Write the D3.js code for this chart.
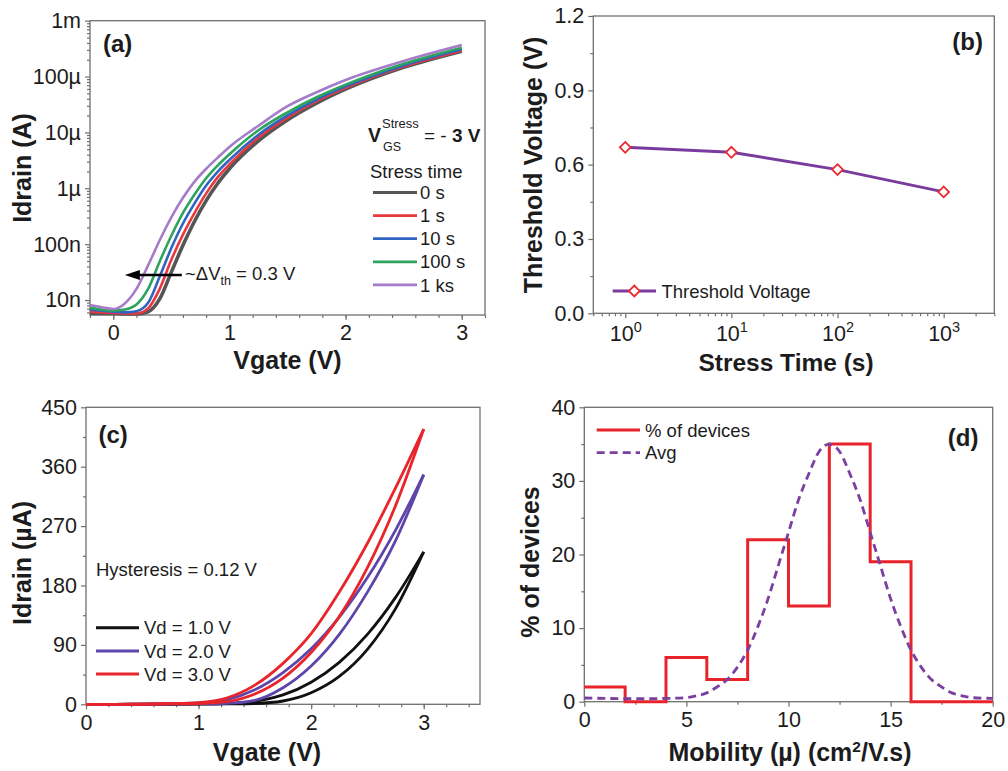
<!DOCTYPE html>
<html>
<head>
<meta charset="utf-8">
<script src="https://cdn.jsdelivr.net/npm/d3@7"></script>
<style>
body { margin: 0; background: #fff; }
svg text { font-family: "Liberation Sans", Arial, Helvetica, sans-serif; }
</style>
</head>
<body>
<svg id="fig" width="1008" height="771"></svg>
<script>
// ---- (a) transfer curves after negative gate stress ----
let vgateA = [-0.2, -0.1, 0, 0.1, 0.2, 0.3, 0.4, 0.5, 0.6, 0.7, 0.8, 0.9, 1.0, 1.25, 1.5, 1.75, 2.0, 2.5, 3.0]
// log10 of Idrain (A)
let logId0s = [-8.24, -8.24, -8.24, -8.25, -8.25, -8.21, -7.98, -7.50, -7.02, -6.59, -6.22, -5.91, -5.65, -5.15, -4.775, -4.475, -4.225, -3.835, -3.545]
let logId1s = [-8.21, -8.22, -8.23, -8.24, -8.24, -8.15, -7.80, -7.28, -6.83, -6.44, -6.09, -5.80, -5.57, -5.09, -4.735, -4.44, -4.20, -3.82, -3.537]
let logId10s = [-8.17, -8.19, -8.21, -8.22, -8.20, -8.05, -7.58, -7.07, -6.63, -6.27, -5.95, -5.70, -5.49, -5.04, -4.695, -4.41, -4.175, -3.80, -3.51]
let logId100s = [-8.14, -8.17, -8.19, -8.17, -8.08, -7.80, -7.31, -6.85, -6.44, -6.11, -5.82, -5.59, -5.39, -4.96, -4.64, -4.37, -4.145, -3.77, -3.483]
let logId1ks = [-8.09, -8.13, -8.16, -8.06, -7.80, -7.38, -6.93, -6.52, -6.17, -5.88, -5.65, -5.45, -5.26, -4.88, -4.53, -4.28, -4.06, -3.72, -3.435]
let stressLabels = ['0 s', '1 s', '10 s', '100 s', '1 ks']
let yTicksA = [1e-8, 1e-7, 1e-6, 1e-5, 1e-4, 1e-3]
let yTickLabelsA = ['10n', '100n', '1µ', '10µ', '100µ', '1m']
let xTicksA = [0, 1, 2, 3]

// ---- (b) threshold voltage vs stress time ----
let stressTime = [1, 10, 100, 1000]
let thresholdV = [0.67, 0.65, 0.58, 0.49]
let xTicksB = [1, 10, 100, 1000]
let yTicksB = [0, 0.3, 0.6, 0.9, 1.2]

// ---- (c) hysteresis loops (two sweep branches per Vd) ----
let vgateC = [0, 0.25, 0.5, 0.75, 1.0, 1.25, 1.5, 1.75, 2.0, 2.25, 2.5, 2.75, 3.0]
let idVd1Fwd = [0, 0, 0.1, 0.2, 0.5, 1.2, 4.5, 14.2, 33.5, 63.6, 106, 162, 231]
let idVd1Rev = [0, 0, 0, 0.1, 0.2, 0.5, 1.2, 5.0, 17.5, 42.2, 83.3, 145, 231]
let idVd2Fwd = [0, 0, 0.2, 0.8, 2, 7, 22, 48, 84, 132, 192, 264, 348]
let idVd2Rev = [0, 0, 0.1, 0.3, 0.6, 1.5, 6, 25, 58, 106, 170, 248, 348]
let idVd3Fwd = [0, 0, 0.2, 1.0, 2.5, 9.5, 29, 62, 107, 170, 244, 328, 417]
let idVd3Rev = [0, 0, 0.1, 0.5, 1.2, 4, 15.6, 39.6, 78.4, 133, 207, 301, 417]
let vdLabels = ['Vd = 1.0 V', 'Vd = 2.0 V', 'Vd = 3.0 V']
let xTicksC = [0, 1, 2, 3]
let yTicksC = [0, 90, 180, 270, 360, 450]

// ---- (d) mobility histogram ----
let binEdges = [0, 2, 4, 6, 8, 10, 12, 14, 16, 18, 20]
let pctDevices = [2, 0, 6, 3, 22, 13, 35, 19, 0, 0]
let avgMobility = [0, 1, 2, 3, 4, 5, 5.5, 6, 6.5, 7, 7.5, 8, 8.5, 9, 9.5, 10, 10.5, 11, 11.5, 12, 12.5, 13, 13.5, 14, 14.5, 15, 15.5, 16, 16.5, 17, 17.5, 18, 18.5, 19, 20]
let avgPct = [0.5, 0.45, 0.4, 0.4, 0.45, 0.55, 0.8, 1.2, 2, 3, 4.7, 7, 10.2, 14, 18.5, 23, 27.5, 31, 34, 35, 34, 31, 27.5, 23, 18.5, 14, 10.2, 7, 4.7, 3, 2, 1.2, 0.8, 0.55, 0.45]
let xTicksD = [0, 5, 10, 15, 20]
let yTicksD = [0, 10, 20, 30, 40]

const axisColor = '#707070'
const textColor = '#1c1c1c'
const tickFont = 21.5
const titleFont = 25
const legendFont = 18.5

let svg = d3.select('#fig')

const range = (a, b, step) => d3.range(Math.round((b - a) / step) + 1).map(i => +(a + i * step).toFixed(6))

const styleAxis = (sel) => {
    sel.attr('font-size', tickFont).attr('font-family', null).attr('color', textColor)
    sel.select('.domain').remove()
    sel.selectAll('line').attr('stroke', axisColor).attr('stroke-width', 1.2)
}

// minor + major ticks on bottom and left, plus the box
const drawAxes = (xScale, yScale, xMajor, xMinor, yMajor, yMinor, xFmt, yFmt, xPad) => {
    const [x0, x1] = xScale.range()
    const [y0, y1] = yScale.range()
    svg.append('g').attr('transform', `translate(0,${y0})`)
        .call(d3.axisBottom(xScale).tickValues(xMinor).tickSize(3).tickFormat(() => ''))
        .call(styleAxis)
    let xg = svg.append('g').attr('transform', `translate(0,${y0})`)
        .call(d3.axisBottom(xScale).tickValues(xMajor).tickSize(5).tickPadding(xPad || 5).tickFormat(xFmt))
        .call(styleAxis)
    svg.append('g').attr('transform', `translate(${x0},0)`)
        .call(d3.axisLeft(yScale).tickValues(yMinor).tickSize(3).tickFormat(() => ''))
        .call(styleAxis)
    svg.append('g').attr('transform', `translate(${x0},0)`)
        .call(d3.axisLeft(yScale).tickValues(yMajor).tickSize(5).tickPadding(4).tickFormat(yFmt))
        .call(styleAxis)
    svg.append('rect')
        .attr('x', x0).attr('y', y1)
        .attr('width', x1 - x0).attr('height', y0 - y1)
        .attr('fill', 'none').attr('stroke', axisColor).attr('stroke-width', 1.3)
    return xg
}

const addText = (x, y, txt, size, opts = {}) => {
    return svg.append('text')
        .attr('x', x).attr('y', y)
        .attr('font-size', size)
        .attr('font-weight', opts.bold ? 'bold' : null)
        .attr('text-anchor', opts.anchor || 'start')
        .attr('dy', opts.dy || null)
        .attr('fill', textColor)
        .text(txt)
}

const addYTitle = (x, y, txt) => {
    return svg.append('text')
        .attr('transform', `translate(${x},${y}) rotate(-90)`)
        .attr('text-anchor', 'middle')
        .attr('font-size', titleFont)
        .attr('font-weight', 'bold')
        .attr('fill', textColor)
        .text(txt)
}

// ================= (a) =================
const drawPanelA = () => {
    let xScale = d3.scaleLinear().domain([-0.2, 3.2]).range([90, 485])
    let yScale = d3.scaleLog().domain([5.4e-9, 1e-3]).range([315, 20.7])

    let yMinor = []
    for (let k = -9; k < -3; k++) {
        for (let m = 2; m <= 9; m++) {
            let v = m * Math.pow(10, k)
            if (v >= 5.4e-9 && v <= 1e-3) yMinor.push(v)
        }
    }
    drawAxes(xScale, yScale, xTicksA, range(-0.2, 3.2, 0.2), yTicksA, yMinor,
        d => d, d => yTickLabelsA[yTicksA.indexOf(d)])

    let colors = ['#555555', '#e8383d', '#2f64c2', '#2ea35c', '#a47cc9']
    let series = [logId0s, logId1s, logId10s, logId100s, logId1ks]
    let line = d3.line()
        .x((d, i) => xScale(vgateA[i]))
        .y(d => yScale(Math.pow(10, d)))
        .curve(d3.curveMonotoneX)
    series.forEach((s, i) => {
        svg.append('path')
            .attr('d', line(s))
            .attr('fill', 'none')
            .attr('stroke', colors[i])
            .attr('stroke-width', i === 0 ? 3.6 : 2.6)
    })

    // arrow marking the threshold shift
    let ay = yScale(2.8e-8)
    let ax1 = xScale(0.59), ax0 = xScale(0.1)
    svg.append('line')
        .attr('x1', ax1).attr('x2', ax0 + 12).attr('y1', ay).attr('y2', ay)
        .attr('stroke', '#000').attr('stroke-width', 2.4)
    svg.append('path')
        .attr('d', `M${ax0},${ay} L${ax0 + 15},${ay - 5} L${ax0 + 15},${ay + 5} Z`)
        .attr('fill', '#000')
    let t = addText(185, 280, '', 18.5)
    t.append('tspan').text('~ΔV')
    t.append('tspan').attr('font-size', 12.5).attr('dy', 5).text('th')
    t.append('tspan').attr('dy', -5).text(' = 0.3 V')

    addText(103, 52, '(a)', 24, { bold: true })
    addText(287.5, 369, 'Vgate (V)', titleFont, { bold: true, anchor: 'middle' })
    addYTitle(31, 168, 'Idrain (A)')

    // legend header
    addText(368, 141.5, 'V', 19.5, { bold: true })
    addText(382, 128, 'Stress', 13)
    addText(383, 151, 'GS', 12.5)
    let eq = addText(424, 141.5, '= - ', 19)
    eq.append('tspan').attr('font-weight', 'bold').text('3 V')
    addText(370, 178, 'Stress time', legendFont)

    stressLabels.forEach((lab, i) => {
        let y = 192.5 + i * 23.1
        svg.append('line')
            .attr('x1', 373).attr('x2', 417).attr('y1', y).attr('y2', y)
            .attr('stroke', colors[i]).attr('stroke-width', 2.8)
        addText(420, y, lab, legendFont, { dy: '0.36em' })
    })
}

// ================= (b) =================
const drawPanelB = () => {
    let xScale = d3.scaleLog().domain([0.5, 3000]).range([593.3, 994.3])
    let yScale = d3.scaleLinear().domain([0, 1.2]).range([313.3, 16])

    let xMinor = []
    for (let k = -1; k <= 3; k++) {
        for (let m = 2; m <= 9; m++) {
            let v = m * Math.pow(10, k)
            if (v >= 0.5 && v <= 3000) xMinor.push(v)
        }
    }
    let xg = drawAxes(xScale, yScale, xTicksB, xMinor, yTicksB, range(0.15, 1.05, 0.3),
        () => '', d3.format('.1f'), 7)
    xg.selectAll('.tick text').each(function (d) {
        let tx = d3.select(this)
        tx.append('tspan').text('10')
        tx.append('tspan').attr('font-size', 14.5).attr('dy', '-0.6em').text(Math.round(Math.log10(d)))
    })

    let purple = '#7a3b9f'
    let red = '#ea2a30'
    let line = d3.line()
        .x((d, i) => xScale(stressTime[i]))
        .y(d => yScale(d))
    svg.append('path')
        .attr('d', line(thresholdV))
        .attr('fill', 'none').attr('stroke', purple).attr('stroke-width', 3)

    let diamond = d3.symbol().type(d3.symbolSquare).size(58)
    svg.selectAll('.vth-pt')
        .data(thresholdV)
        .enter()
        .append('path')
        .attr('class', 'vth-pt')
        .attr('d', diamond)
        .attr('transform', (d, i) => `translate(${xScale(stressTime[i])},${yScale(d)}) rotate(45)`)
        .attr('fill', '#fff').attr('stroke', red).attr('stroke-width', 1.8)

    // legend
    svg.append('line')
        .attr('x1', 612.7).attr('x2', 656).attr('y1', 291).attr('y2', 291)
        .attr('stroke', purple).attr('stroke-width', 3)
    svg.append('path')
        .attr('d', diamond)
        .attr('transform', 'translate(634.3,291) rotate(45)')
        .attr('fill', '#fff').attr('stroke', red).attr('stroke-width', 1.8)
    addText(661.5, 291, 'Threshold Voltage', legendFont, { dy: '0.36em' })

    addText(983, 49.5, '(b)', 24, { bold: true, anchor: 'end' })
    addText(786, 371, 'Stress Time (s)', 24.5, { bold: true, anchor: 'middle' })
    addYTitle(542, 165, 'Threshold Voltage (V)')
}

// ================= (c) =================
const drawPanelC = () => {
    let xScale = d3.scaleLinear().domain([0, 3.5]).range([86, 480])
    let yScale = d3.scaleLinear().domain([0, 450]).range([704.3, 407.3])

    drawAxes(xScale, yScale, xTicksC, range(0, 3.4, 0.2), yTicksC, range(45, 405, 90),
        d => d, d => d)

    let colors = ['#111111', '#5d45aa', '#e8252b']
    let branches = [[idVd1Fwd, idVd1Rev], [idVd2Fwd, idVd2Rev], [idVd3Fwd, idVd3Rev]]
    let line = d3.line()
        .x((d, i) => xScale(vgateC[i]))
        .y(d => yScale(d))
        .curve(d3.curveMonotoneX)
    branches.forEach((pair, i) => {
        pair.forEach(b => {
            svg.append('path')
                .attr('d', line(b))
                .attr('fill', 'none')
                .attr('stroke', colors[i])
                .attr('stroke-width', 2.8)
        })
    })

    addText(96, 576, 'Hysteresis = 0.12 V', legendFont)
    vdLabels.forEach((lab, i) => {
        let y = 627.7 + i * 23.2
        svg.append('line')
            .attr('x1', 96).attr('x2', 139).attr('y1', y).attr('y2', y)
            .attr('stroke', colors[i]).attr('stroke-width', 3)
        addText(144, y, lab, legendFont, { dy: '0.36em' })
    })

    addText(98.5, 442.5, '(c)', 24, { bold: true })
    addText(267, 761, 'Vgate (V)', titleFont, { bold: true, anchor: 'middle' })
    addYTitle(31, 563, 'Idrain (µA)')
}

// ================= (d) =================
const drawPanelD = () => {
    let xScale = d3.scaleLinear().domain([0, 20]).range([584.3, 992.7])
    let yScale = d3.scaleLinear().domain([0, 40]).range([701.7, 407.3])

    drawAxes(xScale, yScale, xTicksD, range(2.5, 17.5, 5), yTicksD, range(5, 35, 10),
        d => d, d => d)

    let red = '#e8232a'
    let purple = '#7b3fa0'
    let stepPts = binEdges.map((e, i) => [e, i < pctDevices.length ? pctDevices[i] : pctDevices[pctDevices.length - 1]])
    let stepLine = d3.line()
        .x(d => xScale(d[0]))
        .y(d => yScale(d[1]))
        .curve(d3.curveStepAfter)
    svg.append('path')
        .attr('d', stepLine(stepPts))
        .attr('fill', 'none').attr('stroke', red).attr('stroke-width', 3)

    let avgLine = d3.line()
        .x((d, i) => xScale(avgMobility[i]))
        .y(d => yScale(d))
        .curve(d3.curveMonotoneX)
    svg.append('path')
        .attr('d', avgLine(avgPct))
        .attr('fill', 'none').attr('stroke', purple).attr('stroke-width', 2.8)
        .attr('stroke-dasharray', '8,5')

    // legend
    svg.append('line')
        .attr('x1', 596.7).attr('x2', 640).attr('y1', 430).attr('y2', 430)
        .attr('stroke', red).attr('stroke-width', 3)
    addText(645, 430, '% of devices', legendFont, { dy: '0.36em' })
    svg.append('line')
        .attr('x1', 596.7).attr('x2', 640).attr('y1', 452.7).attr('y2', 452.7)
        .attr('stroke', purple).attr('stroke-width', 2.8).attr('stroke-dasharray', '8,5')
    addText(645, 452.7, 'Avg', legendFont, { dy: '0.36em' })

    addText(978.5, 446, '(d)', 24, { bold: true, anchor: 'end' })
    let xt = addText(790, 761, '', titleFont, { bold: true, anchor: 'middle' })
    xt.append('tspan').text('Mobility (µ) (cm')
    xt.append('tspan').attr('font-size', 15.5).attr('dy', '-0.6em').text('2')
    xt.append('tspan').attr('dy', '0.38em').text('/V.s)')
    addYTitle(539, 562, '% of devices')
}

drawPanelA()
drawPanelB()
drawPanelC()
drawPanelD()
</script>
</body>
</html>
